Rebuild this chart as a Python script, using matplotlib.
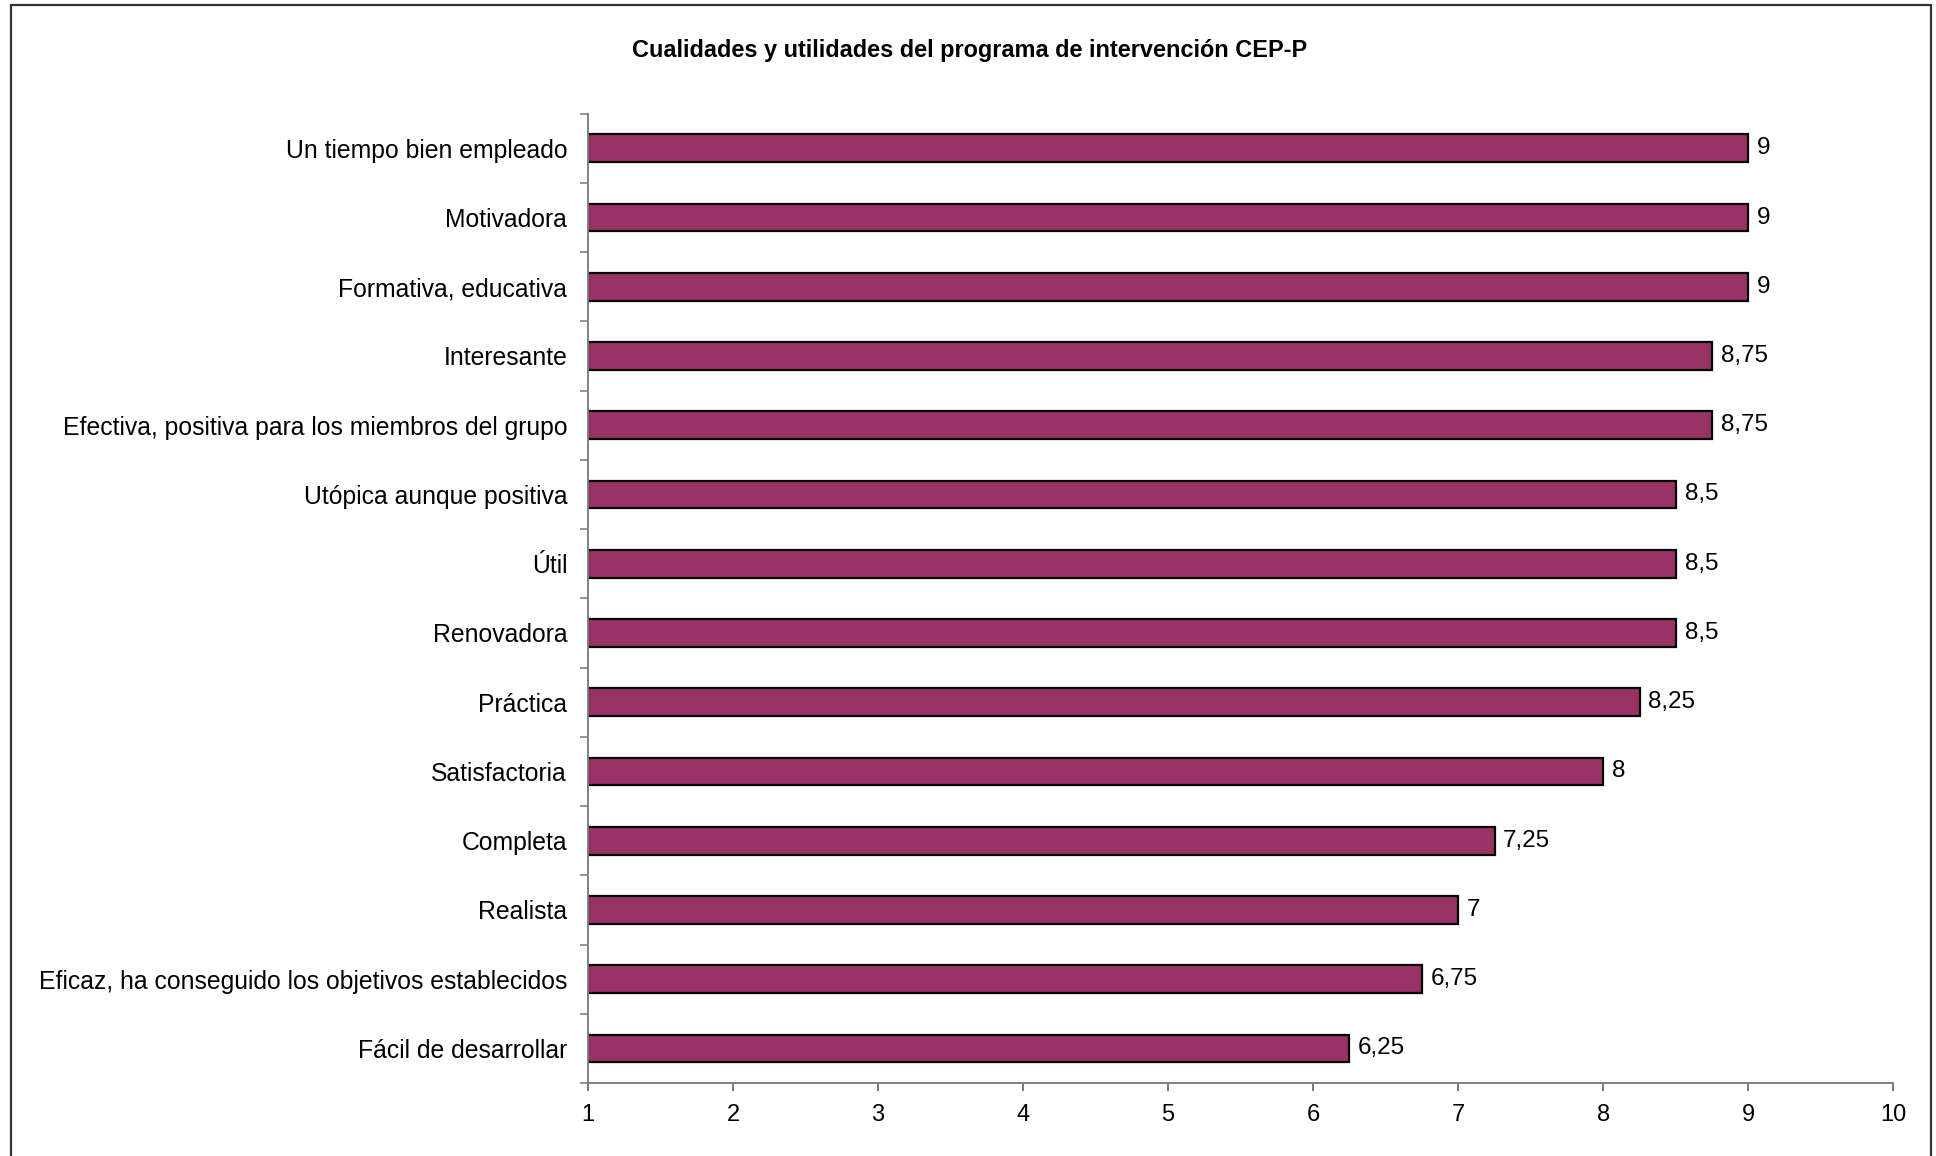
import matplotlib
matplotlib.use('Agg')
import matplotlib.pyplot as plt
from matplotlib.patches import Rectangle
from matplotlib.ticker import FixedLocator

#---------------------------------------------------------
#Data
#---------------------------------------------------------

categories = [
    'Un tiempo bien empleado',
    'Motivadora',
    'Formativa, educativa',
    'Interesante',
    'Efectiva, positiva para los miembros del grupo',
    'Utópica aunque positiva',
    'Útil',
    'Renovadora',
    'Práctica',
    'Satisfactoria',
    'Completa',
    'Realista',
    'Eficaz, ha conseguido los objetivos establecidos',
    'Fácil de desarrollar',
]
values = [9, 9, 9, 8.75, 8.75, 8.5, 8.5, 8.5, 8.25, 8, 7.25, 7, 6.75, 6.25]
x_ticks = [1, 2, 3, 4, 5, 6, 7, 8, 9, 10]
title = 'Cualidades y utilidades del programa de intervención CEP-P'

#---------------------------------------------------------
#Plot
#---------------------------------------------------------

plt.rcParams['font.family'] = ['Liberation Sans', 'DejaVu Sans']

fig = plt.figure(figsize=(19.36, 11.56), dpi=100)
ax = fig.add_axes([0.3037, 0.0631, 0.978 - 0.3037, 0.9017 - 0.0631])

# chart area frame
fig.patches.append(Rectangle((0.0057, -0.05), 0.9972 - 0.0057, 0.9957 + 0.05,
                             transform=fig.transFigure, fill=False,
                             edgecolor='#333333', linewidth=1.6))

n = len(categories)
ypos = list(range(n))
base = x_ticks[0]
ax.barh(ypos, [v - base for v in values], left=base, height=0.4,
        color='#993366', edgecolor='black', linewidth=1.6)

for y, v in zip(ypos, values):
    ax.text(v + 0.06, y, f'{v:g}'.replace('.', ','), va='center', ha='left',
            fontsize=17.5, color='black')

ax.set_xlim(x_ticks[0], x_ticks[-1])
ax.set_ylim(n - 0.5, -0.5)
ax.set_xticks(x_ticks)
ax.set_yticks(ypos)
ax.set_yticklabels(categories, fontsize=17.8)
ax.yaxis.set_minor_locator(FixedLocator([i - 0.5 for i in range(n + 1)]))

for side in ['top', 'right']:
    ax.spines[side].set_visible(False)
for side in ['left', 'bottom']:
    ax.spines[side].set_color('#808080')
    ax.spines[side].set_linewidth(1.4)

ax.tick_params(axis='y', which='major', length=0, pad=15)
ax.tick_params(axis='y', which='minor', length=6, width=1.2, color='#808080')
ax.tick_params(axis='x', which='major', length=6, width=1.2, color='#606060',
               pad=9, labelsize=17)

fig.text(0.501, 0.956, title, ha='center', va='center', fontsize=16.9,
         fontweight='bold')

plt.savefig('out.png', dpi=100)
